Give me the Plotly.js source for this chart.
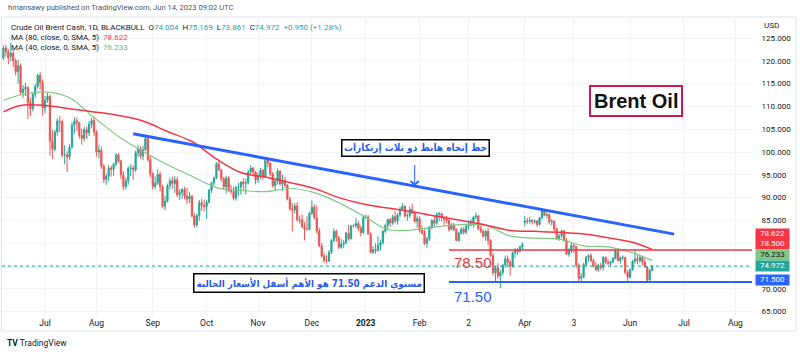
<!DOCTYPE html>
<html>
<head>
<meta charset="utf-8">
<script src="https://cdn.plot.ly/plotly-3.0.1.min.js"></script>
<style>html,body{margin:0;padding:0;background:#fff}#chart{width:800px;height:352px}</style>
</head>
<body>
<div id="chart"></div>
<script>
// ---- Daily candles, Crude Oil Brent Cash (BLACKBULL), 2022-06-08 .. 2023-06-14 (weekdays) ----
const firstDay = '2022-06-08';
const openP = [
120.6,122.8,122.0,
121.0,121.7,120.0,117.6,118.9,
113.0,113.8,114.2,110.8,109.5,
112.6,114.4,116.8,115.2,109.6,
111.4,112.2,102.4,100.6,104.4,
106.8,106.6,99.3,99.4,98.9,
101.0,105.9,106.8,106.4,103.6,
103.0,104.9,104.2,106.1,106.9,
104.4,100.0,100.4,96.9,94.0,
94.7,96.5,96.2,97.3,99.4,
98.0,95.0,92.4,93.6,96.4,
96.5,96.1,99.8,100.7,99.1,
100.5,103.0,98.4,95.2,92.5,
93.2,95.1,92.4,88.1,89.2,
92.6,93.7,93.1,93.9,90.6,
91.2,91.8,90.3,89.7,90.3,
86.0,84.0,86.1,88.9,88.3,
88.0,89.0,91.6,93.2,94.3,
97.4,96.1,94.1,92.4,94.3,
91.5,91.4,89.9,92.2,92.3,
93.4,93.1,93.3,95.6,96.5,
95.6,93.9,94.7,96.0,94.6,
98.2,97.6,95.2,92.6,93.6,
95.8,93.0,93.7,92.7,89.7,
87.5,87.3,88.2,85.2,85.1,
83.6,83.1,83.0,86.6,87.9,
85.6,82.7,79.4,77.2,76.2,
76.1,78.0,80.6,82.6,81.2,
79.1,79.8,80.1,82.2,81.0,
83.8,83.9,84.3,83.3,82.3,
85.6,85.7,82.0,78.0,78.6,
78.4,79.6,80.1,82.6,83.9,
85.2,84.4,85.8,84.9,86.2,
87.5,88.1,86.0,86.1,87.4,
86.6,84.8,85.4,82.8,82.2,
79.9,80.9,83.6,85.0,84.4,
86.3,86.5,85.5,85.3,85.0,
83.0,84.0,83.0,80.6,82.2,
83.1,82.4,83.8,84.3,84.7,
85.7,86.0,83.2,82.6,81.5,
82.6,80.6,77.3,73.5,74.6,
72.8,73.6,75.2,76.6,75.8,
74.9,77.9,78.5,78.2,79.2,
84.5,84.9,84.8,85.0,84.7,
84.9,84.1,85.6,87.2,86.1,
86.3,84.7,84.8,83.1,81.0,
81.6,82.7,80.7,77.6,78.3,
79.5,79.3,75.2,72.3,72.6,
75.3,76.9,77.3,76.2,74.9,
74.2,75.1,74.7,76.9,75.8,
75.6,75.9,76.7,78.3,76.2,
76.8,76.9,73.6,72.6,74.2,
76.0,76.6,76.2,76.9,75.9,
74.8,71.9,74.004
];
const highP = [
123.4,123.6,122.6,
124.0,122.5,120.5,120.2,119.4,
114.7,115.2,114.4,111.8,113.0,
115.0,117.2,117.5,115.9,112.3,
113.0,112.6,104.8,104.9,107.4,
107.9,107.1,101.5,100.2,101.7,
106.5,107.6,107.6,106.6,105.1,
105.5,105.6,106.8,107.5,107.8,
104.8,101.6,101.2,97.4,95.3,
97.1,97.0,97.6,99.7,99.8,
98.3,95.8,94.4,96.9,97.3,
97.1,100.3,101.6,101.3,101.4,
103.6,103.3,99.2,95.6,94.6,
96.2,95.7,92.8,90.4,93.1,
94.3,94.6,94.7,94.6,91.9,
92.1,92.4,92.2,91.3,90.6,
86.6,86.5,89.5,89.8,89.6,
89.5,91.9,93.5,94.6,97.8,
98.0,96.3,94.6,94.8,94.7,
92.8,92.4,92.6,93.2,93.6,
94.3,94.2,96.1,97.1,96.7,
95.8,95.5,96.5,96.3,98.6,
98.8,97.9,95.6,94.0,96.4,
96.0,95.0,94.6,93.0,90.2,
88.8,88.8,89.0,86.1,86.3,
84.6,85.9,86.9,89.4,88.5,
88.3,83.4,80.0,77.9,77.4,
78.5,80.9,83.3,83.0,81.6,
80.9,80.7,82.5,84.0,84.0,
84.1,85.6,84.9,83.9,86.0,
86.2,86.2,82.4,79.4,80.0,
81.5,80.8,82.9,84.3,85.4,
85.5,86.3,87.0,86.6,88.0,
88.8,88.3,86.7,88.0,88.7,
87.0,86.1,85.9,83.9,83.0,
81.4,83.8,85.3,86.0,86.8,
86.9,86.7,85.9,86.0,85.2,
84.4,84.5,83.3,82.6,83.6,
83.5,84.2,85.0,85.2,86.0,
86.7,86.1,83.9,83.1,83.0,
83.3,80.9,77.8,75.1,75.7,
74.1,75.5,77.3,77.3,76.2,
78.2,78.9,79.0,79.5,80.2,
86.0,85.5,85.8,85.3,85.2,
85.0,85.8,87.4,87.5,86.8,
86.5,85.3,85.0,83.5,82.0,
83.0,82.9,81.2,78.9,80.1,
80.0,79.4,75.6,73.5,75.7,
77.2,77.6,77.8,76.6,75.8,
75.5,75.7,77.2,77.1,76.5,
76.2,77.0,78.6,78.6,77.1,
77.3,77.0,74.2,74.5,76.4,
78.6,77.4,77.4,77.2,76.7,
75.0,74.4,75.169
];
const lowP = [
120.2,120.9,119.3,
119.8,118.6,116.8,115.0,112.5,
111.8,112.3,107.2,107.9,108.9,
111.9,113.9,113.6,108.0,108.5,
110.8,99.2,98.5,100.2,103.6,
104.3,98.8,97.3,95.6,98.3,
100.8,104.0,104.6,102.9,101.6,
102.3,102.9,103.5,105.2,103.5,
99.0,98.6,96.3,93.2,92.8,
93.6,94.6,94.8,96.9,97.6,
94.1,91.6,91.8,92.8,94.7,
93.9,95.6,98.9,98.5,98.2,
100.2,97.8,94.4,91.8,91.9,
92.8,91.4,87.6,87.2,88.9,
91.8,91.9,91.0,90.1,89.5,
89.7,89.6,88.6,88.8,85.6,
83.4,83.6,84.9,87.1,86.9,
85.3,88.7,91.0,92.6,94.0,
95.8,93.5,91.8,90.9,91.2,
90.7,89.4,89.3,90.4,90.6,
91.6,90.7,92.9,95.1,94.6,
92.9,93.2,94.1,93.9,94.3,
96.6,94.7,92.2,91.5,92.8,
92.6,91.4,92.2,89.4,87.1,
82.6,86.5,84.7,84.3,83.3,
80.6,82.8,82.9,86.2,85.2,
82.1,79.1,76.8,75.7,75.6,
75.9,77.6,80.2,80.3,78.7,
78.8,78.9,79.9,80.6,80.8,
83.4,83.3,82.7,81.5,82.1,
85.3,81.9,77.8,77.6,77.7,
78.2,78.4,79.7,82.2,82.8,
83.6,84.0,84.4,84.1,85.7,
87.1,85.5,84.9,85.5,86.4,
84.5,83.4,82.3,81.9,79.6,
79.0,80.5,83.1,83.6,84.0,
84.8,84.8,83.9,84.4,82.5,
82.8,82.6,80.4,80.3,81.9,
81.9,82.0,83.0,83.6,83.4,
85.2,82.9,82.2,81.3,80.5,
79.5,77.0,72.9,71.6,72.2,
70.2,73.0,74.6,75.0,72.9,
74.6,76.8,77.4,77.9,78.5,
83.7,84.2,84.3,84.1,84.3,
83.6,83.8,85.2,85.9,85.4,
84.1,83.9,82.4,80.7,80.5,
81.2,80.3,77.4,77.0,77.8,
77.9,74.6,71.5,71.6,72.3,
75.0,75.9,75.8,74.7,73.9,
73.7,74.1,74.0,75.5,75.2,
75.0,75.6,76.4,76.0,75.5,
76.3,73.2,71.7,72.2,74.0,
75.5,75.4,75.7,75.1,74.6,
71.6,71.8,73.861
];
const closeP = [
122.8,122.0,120.6,
121.7,120.0,117.6,118.9,113.0,
113.8,114.2,110.8,109.5,112.6,
114.4,116.8,115.2,109.6,111.4,
112.2,102.4,100.6,104.4,106.8,
106.6,99.3,99.4,98.9,101.0,
105.9,106.8,106.4,103.6,103.0,
104.9,104.2,106.1,106.9,104.4,
100.0,100.4,96.9,94.0,94.7,
96.5,96.2,97.3,99.4,98.0,
95.0,92.4,93.6,96.4,96.5,
96.1,99.8,100.7,99.1,100.5,
103.0,98.4,95.2,92.5,93.2,
95.1,92.4,88.1,89.2,92.6,
93.7,93.1,93.9,90.6,91.2,
91.8,90.3,89.7,90.3,86.0,
84.0,86.1,88.9,88.3,88.0,
89.0,91.6,93.2,94.3,97.4,
96.1,94.1,92.4,94.3,91.5,
91.4,89.9,92.2,92.3,93.4,
93.1,93.3,95.6,96.5,95.6,
93.9,94.7,96.0,94.6,98.2,
97.6,95.2,92.6,93.6,95.8,
93.0,93.7,92.7,89.7,87.5,
87.3,88.2,85.2,85.1,83.6,
83.1,83.0,86.6,87.9,85.6,
82.7,79.4,77.2,76.2,76.1,
78.0,80.6,82.6,81.2,79.1,
79.8,80.1,82.2,81.0,83.8,
83.9,84.3,83.3,82.3,85.6,
85.7,82.0,78.0,78.6,78.4,
79.6,80.1,82.6,83.9,85.2,
84.4,85.8,84.9,86.2,87.5,
88.1,86.0,86.1,87.4,86.6,
84.8,85.4,82.8,82.2,79.9,
80.9,83.6,85.0,84.4,86.3,
86.5,85.5,85.3,85.0,83.0,
84.0,83.0,80.6,82.2,83.1,
82.4,83.8,84.3,84.7,85.7,
86.0,83.2,82.6,81.5,82.6,
80.6,77.3,73.5,74.6,72.8,
73.6,75.2,76.6,75.8,74.9,
77.9,78.5,78.2,79.2,79.7,
84.9,84.8,85.0,84.7,84.9,
84.1,85.6,87.2,86.1,86.3,
84.7,84.8,83.1,81.0,81.6,
82.7,80.7,77.6,78.3,79.5,
79.3,75.2,72.3,72.6,75.3,
76.9,77.3,76.2,74.9,74.2,
75.1,74.7,76.9,75.8,75.6,
75.9,76.7,78.3,76.2,76.8,
76.9,73.6,72.6,74.2,76.0,
76.6,76.2,76.9,75.9,74.8,
71.9,74.022,74.972
];

const maDates = ['2022-06-08','2022-06-17','2022-07-01','2022-07-15','2022-07-29','2022-08-12','2022-08-26',
  '2022-09-09','2022-09-23','2022-10-07','2022-10-21','2022-11-04','2022-11-18','2022-12-02','2022-12-16',
  '2022-12-30','2023-01-13','2023-01-27','2023-02-10','2023-02-24','2023-03-10','2023-03-24','2023-04-07',
  '2023-04-21','2023-05-05','2023-05-19','2023-06-02','2023-06-14'];
const ma80 = [108.8,110.2,110.2,109.5,108.8,108.0,106.8,104.5,102.3,98.5,95.5,94.5,93.3,92.0,90.0,
  88.6,87.7,86.9,85.9,85.0,84.0,82.8,82.6,82.4,82.0,81.2,80.2,78.622];
const ma40 = [111.3,112.5,113.2,111.9,107.6,103.4,100.1,97.2,94.7,92.2,91.6,91.3,92.0,91.1,88.9,
  86.0,83.0,82.9,83.6,84.1,83.9,81.6,81.1,80.9,79.4,79.2,77.9,76.233];

// ---- Drawings ----
const trendDates = ['2022-08-22','2023-06-27'];
const trendPrices = [104.0, 82.0];
const levelStart = '2023-02-17';
const levels = [78.5, 71.5];
const levelLabels = ['78.50','71.50'];
const arrowDate = '2023-01-30';
const arrowTipPrice = 92.5;

// ---- Axis ticks ----
const monthTicks = ['2022-07-01','2022-08-01','2022-09-01','2022-10-03','2022-11-01','2022-12-01','2023-01-02',
  '2023-02-01','2023-03-01','2023-04-03','2023-05-01','2023-06-01','2023-07-03','2023-08-01'];
const monthLabels = ['Jul','Aug','Sep','Oct','Nov','Dec','<b>2023</b>','Feb','2','Apr','3','Jun','Jul','Aug'];
const priceTicks = [65,70,85,90,95,100,105,110,115,120,125];   // labels not hidden by price tags
const hiddenGrid = [75,80];                                    // grid rows whose labels sit under tags
const xRange = ['2022-06-07 10:00','2023-08-09 19:00'];
const yRange = [64.04, 129.39];

function weekdays(startISO, n) {
  const out = []; const d = new Date(startISO + 'T00:00:00Z');
  while (out.length < n) {
    const wd = d.getUTCDay();
    if (wd !== 0 && wd !== 6) out.push(d.toISOString().slice(0, 10));
    d.setUTCDate(d.getUTCDate() + 1);
  }
  return out;
}
const dates = weekdays(firstDay, closeP.length);
const n = closeP.length;
const lastO = openP[n-1], lastH = highP[n-1], lastL = lowP[n-1], lastC = closeP[n-1];
const chg = lastC - closeP[n-2];
const chgPct = chg / closeP[n-2] * 100;

const UP = '#26a69a', DN = '#ef5350', RED = '#f23645', GRN = '#81c784', BLUE = '#2962ff';

const traces = [
  {type:'candlestick', x:dates, open:openP, high:highP, low:lowP, close:closeP,
   increasing:{line:{color:UP,width:1}, fillcolor:UP},
   decreasing:{line:{color:DN,width:1}, fillcolor:DN},
   whiskerwidth:0, hoverinfo:'skip'},
  {type:'scatter', mode:'lines', x:maDates, y:ma40, line:{color:GRN,width:1.2,shape:'spline',smoothing:1}, hoverinfo:'skip'},
  {type:'scatter', mode:'lines', x:maDates, y:ma80, line:{color:RED,width:1.5,shape:'spline',smoothing:1}, hoverinfo:'skip'},
  {type:'scatter', mode:'lines', x:trendDates, y:trendPrices, line:{color:BLUE,width:3}, hoverinfo:'skip'}
];

const px = v => (v - 2) / 750;      // page x -> paper x
const py = v => (316 - v) / 298;    // page y -> paper y

const shapes = [
  ...hiddenGrid.map(g => ({type:'line', xref:'paper', yref:'y', x0:0, x1:1, y0:g, y1:g, layer:'below', line:{color:'#f0f3fa',width:1}})),
  {type:'line', xref:'paper', yref:'y', x0:0, x1:1, y0:lastC, y1:lastC, line:{color:UP,width:1,dash:'dot'}},
  {type:'line', xref:'x', yref:'y', x0:levelStart, x1:xRange[1], y0:levels[0], y1:levels[0], line:{color:RED,width:1.5}},
  {type:'line', xref:'x', yref:'y', x0:levelStart, x1:xRange[1], y0:levels[1], y1:levels[1], line:{color:BLUE,width:2}},
  {type:'rect', xref:'paper', yref:'paper', x0:px(1.5), x1:px(796), y0:py(331), y1:py(17), line:{color:'#e0e3eb',width:1}, layer:'below'}
];

const sp = (c, t) => '<span style="color:' + c + '">' + t + '</span>';
const baseFont = 'Roboto, "Liberation Sans", sans-serif';
const arFont = '"DejaVu Sans Condensed", "DejaVu Sans", sans-serif';
const tag = (val, bg, fg, shift) => ({xref:'paper', yref:'y', x:1, y:val, xanchor:'left', yanchor:'middle',
  xshift:3, yshift:shift, text:val.toFixed(3), showarrow:false, bgcolor:bg, width:33, height:9.5,
  font:{size:8, color:fg, family:baseFont}, borderpad:0});

const annotations = [
  {xref:'paper', yref:'paper', x:px(6), y:py(8), xanchor:'left', yanchor:'middle', showarrow:false,
   text:'hmansawy published on TradingView.com, Jun 14, 2023 09:02 UTC', font:{size:7.6, color:'#50535e', family:baseFont}},
  {xref:'paper', yref:'paper', x:px(9), y:py(27), xanchor:'left', yanchor:'middle', showarrow:false,
   text:'Crude Oil Brent Cash, 1D, BLACKBULL  O' + sp(UP, lastO.toFixed(3)) + '  H' + sp(UP, lastH.toFixed(3)) +
        '  L' + sp(UP, lastL.toFixed(3)) + '  C' + sp(UP, lastC.toFixed(3)) + '  ' +
        sp(UP, (chg >= 0 ? '+' : '') + chg.toFixed(3) + ' (' + (chg >= 0 ? '+' : '') + chgPct.toFixed(2) + '%)'),
   font:{size:8, color:'#131722', family:baseFont}},
  {xref:'paper', yref:'paper', x:px(9), y:py(37.5), xanchor:'left', yanchor:'middle', showarrow:false,
   text:'MA (80, close, 0, SMA, 5)  ' + sp(RED, ma80[ma80.length-1].toFixed(3)), font:{size:8, color:'#131722', family:baseFont}},
  {xref:'paper', yref:'paper', x:px(9), y:py(48), xanchor:'left', yanchor:'middle', showarrow:false,
   text:'MA (40, close, 0, SMA, 5)  ' + sp('#66bb6a', ma40[ma40.length-1].toFixed(3)), font:{size:8, color:'#131722', family:baseFont}},
  {xref:'paper', yref:'paper', x:px(762), y:py(25), xanchor:'left', yanchor:'middle', showarrow:false,
   text:'USD', font:{size:8, color:'#131722', family:baseFont}},
  {xref:'paper', yref:'paper', x:px(5), y:py(343), xanchor:'left', yanchor:'middle', showarrow:false,
   text:'<b>TV</b> TradingView', font:{size:8.5, color:'#131722', family:baseFont}},
  // Brent Oil box
  {xref:'paper', yref:'paper', x:px(636), y:py(101), xanchor:'center', yanchor:'middle', showarrow:false,
   text:'<b>Brent Oil</b>', font:{size:20, color:'#111111', family:'"Liberation Sans", Arial, sans-serif'},
   bordercolor:'#c8185a', borderwidth:2, borderpad:3, bgcolor:'#ffffff'},
  // trend line caption
  {xref:'paper', yref:'paper', x:px(415), y:py(148.5), xanchor:'center', yanchor:'middle', showarrow:false,
   text:'<b>خط إتجاه هابط ذو ثلاث إرتكازات</b>', font:{size:10, color:'#2b5ce6', family:arFont},
   bordercolor:'#000000', borderwidth:1.5, borderpad:1.5, bgcolor:'#ffffff'},
  {xref:'x', yref:'y', x:arrowDate, y:arrowTipPrice, ax:0, ay:-23, text:'', showarrow:true,
   arrowhead:4, arrowsize:1.6, arrowwidth:1, arrowcolor:BLUE},
  // support caption
  {xref:'paper', yref:'paper', x:px(308.5), y:py(282.5), xanchor:'center', yanchor:'middle', showarrow:false,
   text:'<b>مستوي الدعم 71.50 هو الأهم أسفل الأسعار الحالية</b>', font:{size:9.8, color:'#2b5ce6', family:arFont},
   bordercolor:'#000000', borderwidth:1.5, borderpad:2, bgcolor:'#ffffff'},
  // level labels
  {xref:'x', yref:'y', x:'2023-03-03', y:levels[0], xanchor:'center', yanchor:'top', yshift:-2, showarrow:false,
   text:levelLabels[0], font:{size:15, color:'#e53935', family:'"Liberation Sans", Arial, sans-serif'}},
  {xref:'x', yref:'y', x:'2023-03-03', y:levels[1], xanchor:'center', yanchor:'top', yshift:-4, showarrow:false,
   text:levelLabels[1], font:{size:15, color:BLUE, family:'"Liberation Sans", Arial, sans-serif'}},
  // price scale tags
  tag(ma80[ma80.length-1], RED, '#ffffff', 16),
  tag(levels[0], RED, '#ffffff', 5.7),
  tag(ma40[ma40.length-1], GRN, '#131722', 5.4),
  tag(lastC, UP, '#ffffff', 0),
  tag(levels[1], BLUE, '#ffffff', 1.5)
];

const layout = {
  width:800, height:352, margin:{l:2, r:48, t:18, b:36},
  paper_bgcolor:'#ffffff', plot_bgcolor:'#ffffff', showlegend:false,
  font:{family:baseFont, size:8, color:'#131722'},
  xaxis:{type:'date', range:xRange, rangebreaks:[{bounds:['sat','mon']}], rangeslider:{visible:false},
    tickmode:'array', tickvals:monthTicks, ticktext:monthLabels, showgrid:true, gridcolor:'#f0f3fa', gridwidth:1,
    ticks:'', tickfont:{size:8.5, color:'#131722'},
    zeroline:false, showline:false, fixedrange:true},
  yaxis:{side:'right', range:yRange, tickmode:'array', tickvals:priceTicks, tickformat:'.3f',
    showgrid:true, gridcolor:'#f0f3fa', gridwidth:1, ticks:'outside', ticklen:7, tickcolor:'rgba(0,0,0,0)',
    tickfont:{size:8, color:'#131722'}, zeroline:false, showline:false, fixedrange:true},
  shapes:shapes, annotations:annotations
};

Plotly.newPlot('chart', traces, layout, {staticPlot:true, displayModeBar:false});
</script>
</body>
</html>
